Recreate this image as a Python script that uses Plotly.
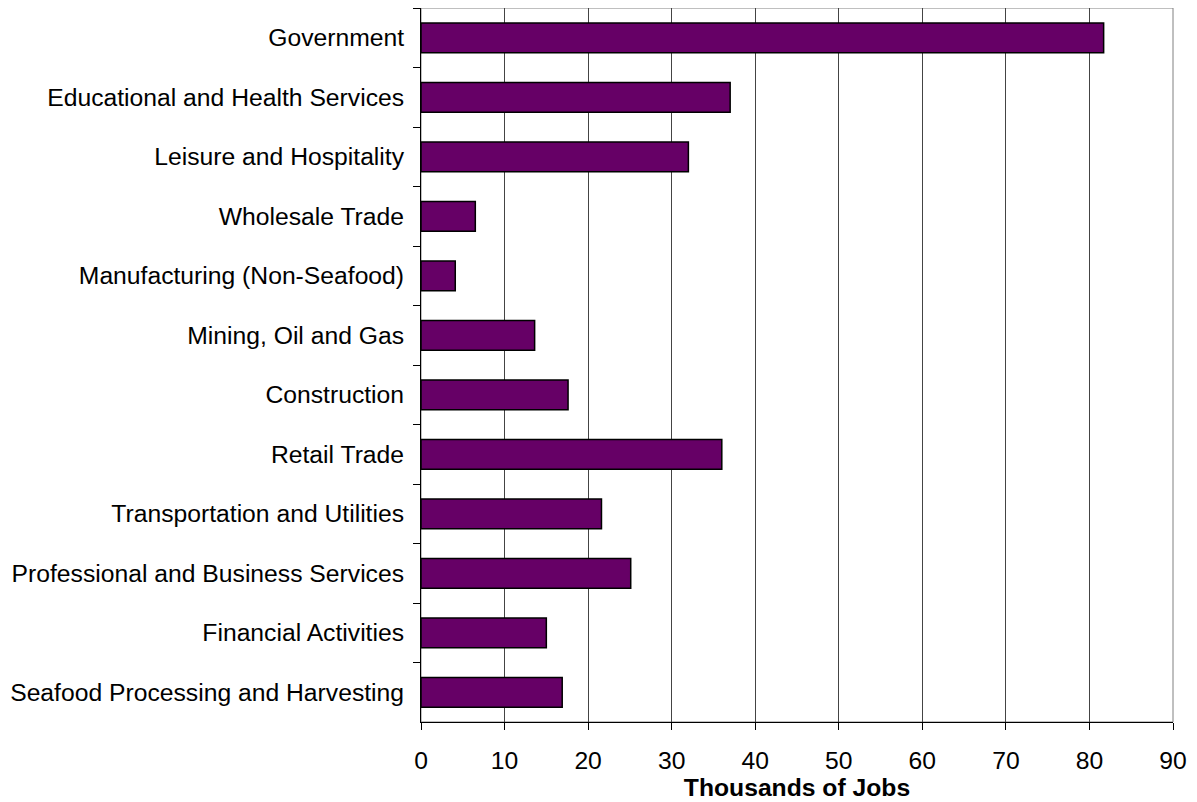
import plotly.graph_objects as go

categories = [
    "Government",
    "Educational and Health Services",
    "Leisure and Hospitality",
    "Wholesale Trade",
    "Manufacturing (Non-Seafood)",
    "Mining, Oil and Gas",
    "Construction",
    "Retail Trade",
    "Transportation and Utilities",
    "Professional and Business Services",
    "Financial Activities",
    "Seafood Processing and Harvesting",
]
jobs_thousands = [81.7, 37.0, 32.0, 6.5, 4.1, 13.6, 17.6, 36.0, 21.6, 25.1, 15.0, 16.9]
x_ticks = [0, 10, 20, 30, 40, 50, 60, 70, 80, 90]

FONT = "Liberation Sans, Arial, sans-serif"
FS = 24.7

fig = go.Figure(
    go.Bar(
        x=jobs_thousands,
        y=categories,
        orientation="h",
        width=0.5,
        marker=dict(color="#660066", line=dict(color="#000000", width=1.5)),
    )
)

fig.update_layout(
    width=1189,
    height=794,
    margin=dict(l=413, r=24, t=0, b=80),
    paper_bgcolor="white",
    plot_bgcolor="white",
    font=dict(family=FONT, size=FS, color="black"),
    showlegend=False,
    bargap=0.5,
    shapes=[
        dict(
            type="rect", xref="paper", yref="paper", x0=0, y0=0, x1=1, y1=1,
            line=dict(color="#808080", width=1), layer="below",
        )
    ],
)

fig.update_xaxes(
    range=[0, 90],
    tickvals=x_ticks,
    ticks="outside",
    ticklen=7,
    tickcolor="black",
    showline=True,
    linecolor="black",
    linewidth=1,
    showgrid=True,
    gridcolor="#444444",
    gridwidth=1,
    zeroline=False,
    tickfont=dict(size=FS),
    ticklabelstandoff=9,
    title=dict(text="<b>Thousands of Jobs</b>", font=dict(size=FS), standoff=4),
)

fig.update_yaxes(
    autorange="reversed",
    type="category",
    tickson="boundaries",
    ticks="outside",
    ticklen=7,
    tickcolor="black",
    showline=True,
    linecolor="black",
    linewidth=1,
    showgrid=False,
    tickfont=dict(size=FS),
    ticklabelstandoff=11,
)

fig.write_html("out.html")
